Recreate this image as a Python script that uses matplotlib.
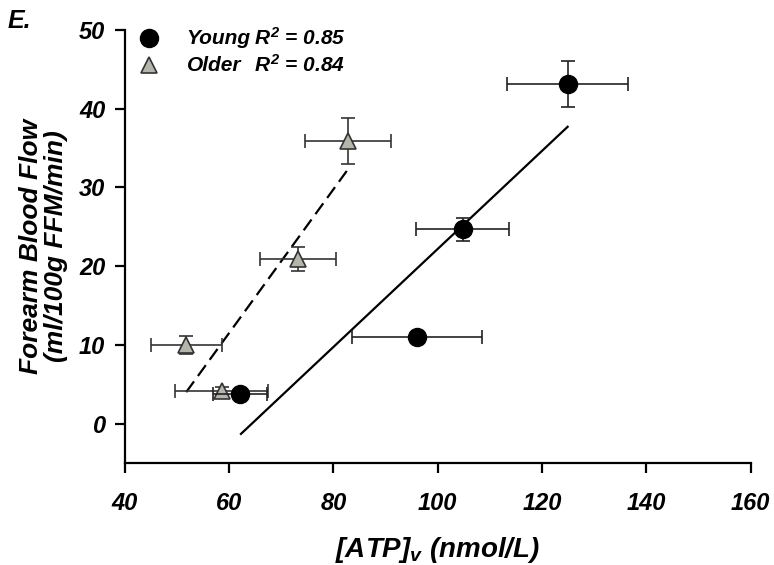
import numpy as np
import matplotlib.pyplot as plt

plt.rcParams['font.family'] = 'Liberation Sans'
plt.rcParams['font.weight'] = 'bold'
plt.rcParams['font.style'] = 'italic'
plt.rcParams['axes.labelweight'] = 'bold'
plt.rcParams['mathtext.fontset'] = 'custom'
plt.rcParams['mathtext.it'] = 'Liberation Sans:italic:bold'
plt.rcParams['mathtext.rm'] = 'Liberation Sans:italic:bold'

# Young
young_x = [62.1, 96.0, 104.8, 124.9]
young_y = [3.8, 11.0, 24.7, 43.1]
young_xerr = [5.1, 12.5, 8.9, 11.65]
young_yerr = [0.4, 0.5, 1.45, 2.9]
young_fit_x = [62.3, 124.9]
young_fit_y = [-1.3, 37.7]

# Older
older_x = [51.8, 58.6, 73.2, 82.8]
older_y = [10.0, 4.2, 20.9, 35.9]
older_xerr = [6.8, 8.9, 7.3, 8.2]
older_yerr = [1.15, 0.5, 1.5, 2.9]
older_fit_x = [51.8, 82.8]
older_fit_y = [4.0, 32.3]

groups = ['Young', 'Older']
r2 = [0.85, 0.84]

fig = plt.figure(figsize=(7.74, 5.65), dpi=100)
ax = fig.add_axes([0.161, 0.1805, 0.809, 0.7665])

ax.plot(young_fit_x, young_fit_y, color='black', lw=1.6, zorder=2)
ax.plot(older_fit_x, older_fit_y, color='black', lw=1.6, dashes=(6, 3), zorder=2)

tri_style = dict(marker='^', ms=12, mfc='#b5b5ab', mec='#333333', mew=1.2)
dot_style = dict(marker='o', ms=13, mfc='black', mec='black')

ax.errorbar(older_x, older_y, xerr=older_xerr, yerr=older_yerr, ls='none',
            ecolor='#333333', elinewidth=1.2, capsize=5, capthick=1.2, zorder=3,
            **tri_style)
ax.errorbar(young_x, young_y, xerr=young_xerr, yerr=young_yerr, ls='none',
            ecolor='#222222', elinewidth=1.2, capsize=5, capthick=1.2, zorder=4,
            **dot_style)

ax.set_xlim(40, 160)
ax.set_ylim(-5, 50)
ax.set_xticks(np.arange(40, 161, 20))
ax.set_yticks(np.arange(0, 51, 10))
ax.spines['top'].set_visible(False)
ax.spines['right'].set_visible(False)
ax.spines['left'].set_linewidth(1.6)
ax.spines['bottom'].set_linewidth(1.6)
ax.tick_params(direction='out', length=7, width=1.6, labelsize=17, pad=7)
ax.tick_params(axis='x', pad=14)

ax.set_xlabel(r'[ATP]$_{v}$ (nmol/L)', fontsize=20, labelpad=14)
ax.set_ylabel('Forearm Blood Flow\n(ml/100g FFM/min)', fontsize=19, labelpad=8,
              linespacing=1.05)

# legend drawn by hand so the R² terms line up
leg_y = [0.981, 0.919]
for name, val, yy, st in zip(groups, r2, leg_y, [dot_style, tri_style]):
    ax.plot([0.039], [yy], transform=ax.transAxes, clip_on=False, ls='none', **st)
    ax.text(0.099, yy, name, transform=ax.transAxes, fontsize=15, va='center')
    ax.text(0.207, yy, r'$R^2$' + ' = {:.2f}'.format(val), transform=ax.transAxes,
            fontsize=15, va='center')

fig.text(0.01, 0.95, 'E.', fontsize=18)

fig.savefig('out.png', dpi=100)
